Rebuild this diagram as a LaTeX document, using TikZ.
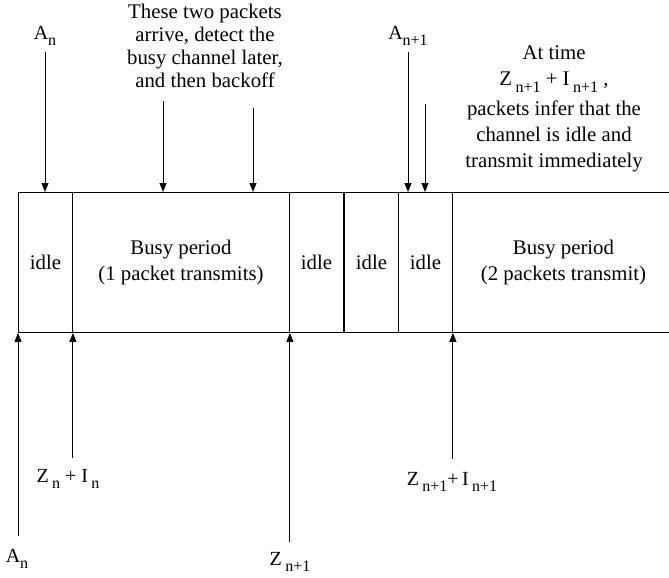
\documentclass[tikz,border=0pt]{standalone}
\usepackage{fontspec}
\setmainfont{Liberation Serif}
\usetikzlibrary{arrows.meta}
% lowered, smaller index text for the time labels
\newcommand\lblsub[1]{\raisebox{-0.3em}{\fontsize{16}{16}\selectfont #1}}
\begin{document}
\begin{tikzpicture}[x=1pt,y=-1pt,
  body/.style={font=\fontsize{20.8}{25.5}\selectfont},
  cell/.style={draw, line width=0.9pt, inner sep=0pt, minimum height=140pt,
               anchor=north west, align=center, body},
  lbl/.style={inner sep=0pt, anchor=base, font=\fontsize{20}{20}\selectfont},
  note/.style={inner sep=0pt, anchor=north, align=center},
  arr/.style={line width=0.9pt, -{Triangle[length=9pt,width=7pt]}}]
\useasboundingbox (0,0) rectangle (669,578);

% first time line segment
\node[cell, minimum width=54pt]  (i1) at (18,192)  {idle};
\node[cell, minimum width=217pt] (b1) at (72,192)  {Busy period\\(1 packet transmits)};
\node[cell, minimum width=54pt]  (i2) at (289,192) {idle};
% second time line segment
\node[cell, minimum width=54pt]  (i3) at (344,192) {idle};
\node[cell, minimum width=54pt]  (i4) at (398,192) {idle};
\node[cell, minimum width=222pt] (b2) at (452,192) {Busy period\\(2 packets transmit)};

% labels and notes above
\node[lbl] (an) at (45,40) {A\lblsub{n}};
\node[lbl] (an1) at (408,40) {A\lblsub{n+1}};
\node[note, font=\fontsize{20.8}{23}\selectfont] (pk) at (205,4)
  {These two packets\\arrive, detect the\\busy channel later,\\and then backoff};
\node[note, font=\fontsize{20.8}{26}\selectfont] (tm) at (554,46)
  {At time\\Z\,\lblsub{n+1} + I\,\lblsub{n+1} ,\\[4pt]packets infer that the\\channel is idle and\\transmit immediately};

\coordinate (p1) at (163,101);
\coordinate (p2) at (253,108);
\coordinate (p3) at (425,104);

\draw[arr, shorten <=6pt] (an.south) -- (an.south |- i1.north);
\draw[arr] (p1) -- (p1 |- b1.north);
\draw[arr] (p2) -- (p2 |- b1.north);
\draw[arr, shorten <=6pt] (an1.south) -- (an1.south |- i4.north);
\draw[arr] (p3) -- (p3 |- i4.north);

% labels below
\node[lbl] (an2) at (17,562) {A\lblsub{n}};
\node[lbl] (zi) at (68,482) {Z\,\lblsub{n} + I\,\lblsub{n}};
\node[lbl] (z1) at (290,565) {Z\,\lblsub{n+1}};
\node[lbl] (zi1) at (452,485) {Z\,\lblsub{n+1}+\,I\,\lblsub{n+1}};

\draw[arr, shorten <=13pt] (an2.north -| i1.south west) -- (i1.south west);
\draw[arr, shorten <=11pt] (zi.north -| i1.south east) -- (i1.south east);
\draw[arr, shorten <=10pt] (z1.north -| b1.south east) -- (b1.south east);
\draw[arr, shorten <=13pt] (zi1.north -| i4.south east) -- (i4.south east);
\end{tikzpicture}
\end{document}
